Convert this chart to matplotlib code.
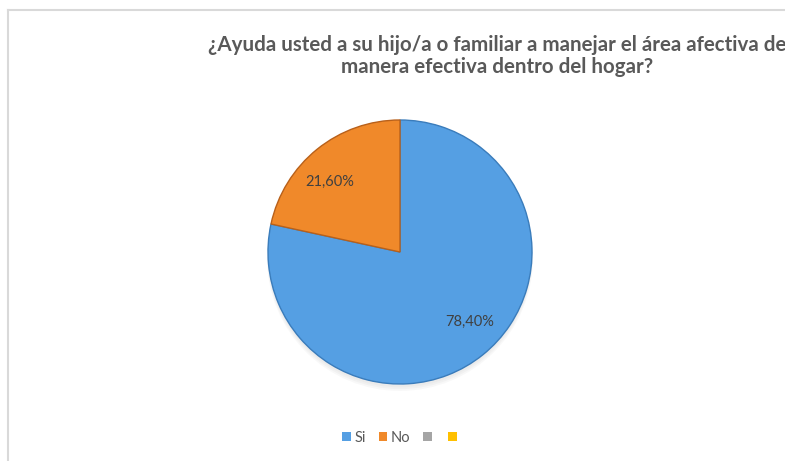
import matplotlib
matplotlib.use("Agg")
import matplotlib.pyplot as plt
from matplotlib.patches import Patch, Circle
from matplotlib.lines import Line2D
import numpy as np

# Survey answers
categories = ["Si", "No", "", ""]
values = [78.4, 21.6, 0.0, 0.0]
colors = ["#559FE3", "#F0892A", "#A5A5A5", "#FFC000"]
edge_colors = ["#3A7CBB", "#B8601A"]

title = "¿Ayuda usted a su hijo/a o familiar a manejar el área afectiva de\nmanera efectiva dentro del hogar?"

W, H = 785, 461
fig = plt.figure(figsize=(W / 100, H / 100), dpi=100)
fig.patch.set_facecolor("white")

# Chart-area frame (left and top edges visible)
fig.add_artist(Line2D([8 / W, 8 / W], [0, 1 - 10 / H], color="#D9D9D9", lw=1.5))
fig.add_artist(Line2D([8 / W, 1], [1 - 10 / H, 1 - 10 / H], color="#D9D9D9", lw=1.5))

fig.text(497 / W, 1 - 56 / H, title, ha="center", va="center",
         fontsize=14.8, fontweight="bold", color="#595959",
         family=["Lato", "DejaVu Sans"], linespacing=1.1)

cx, cy, r = 400, 252, 132
ax = fig.add_axes([(cx - r) / W, (H - cy - r) / H, 2 * r / W, 2 * r / H])

shown = [(c, v, col) for c, v, col in zip(categories, values, colors) if v > 0]
wedges, _ = ax.pie([v for _, v, _ in shown], colors=[col for _, _, col in shown],
                   startangle=90, counterclock=False, radius=1.0,
                   wedgeprops=dict(linewidth=1.0))
for w, ec in zip(wedges, edge_colors):
    w.set_edgecolor(ec)
    w.set_zorder(2)

ax.set_xlim(-1, 1)
ax.set_ylim(-1, 1)
ax.set_aspect("equal")
ax.axis("off")

# soft shadow under the pie
for i in range(3):
    ax.add_patch(Circle((0.0, -0.025 - 0.01 * i), 1.0 + 0.004 * i,
                        color="#808080", alpha=0.05, zorder=0, lw=0, clip_on=False))

# data labels, set a little counter-clockwise from each wedge's middle
for (c, v, col), w in zip(shown, wedges):
    mid = np.deg2rad((w.theta1 + w.theta2) / 2 + 6)
    d = 0.75
    ax.text(d * np.cos(mid), d * np.sin(mid), f"{v:.2f}%".replace(".", ","),
            ha="center", va="center", fontsize=10.5, color="#404040",
            family=["Lato", "DejaVu Sans"], zorder=3)

handles = [Patch(facecolor=col, edgecolor="none") for col in colors]
leg = fig.legend(handles, categories, loc="center", bbox_to_anchor=(401 / W, 1 - 438 / H),
                 ncol=4, frameon=False, handlelength=0.6, handleheight=0.6,
                 handletextpad=0.2, columnspacing=0.9,
                 prop=dict(family=["Lato", "DejaVu Sans"], size=10.5))
for t in leg.get_texts():
    t.set_color("#595959")

fig.savefig("out.png", dpi=100)
